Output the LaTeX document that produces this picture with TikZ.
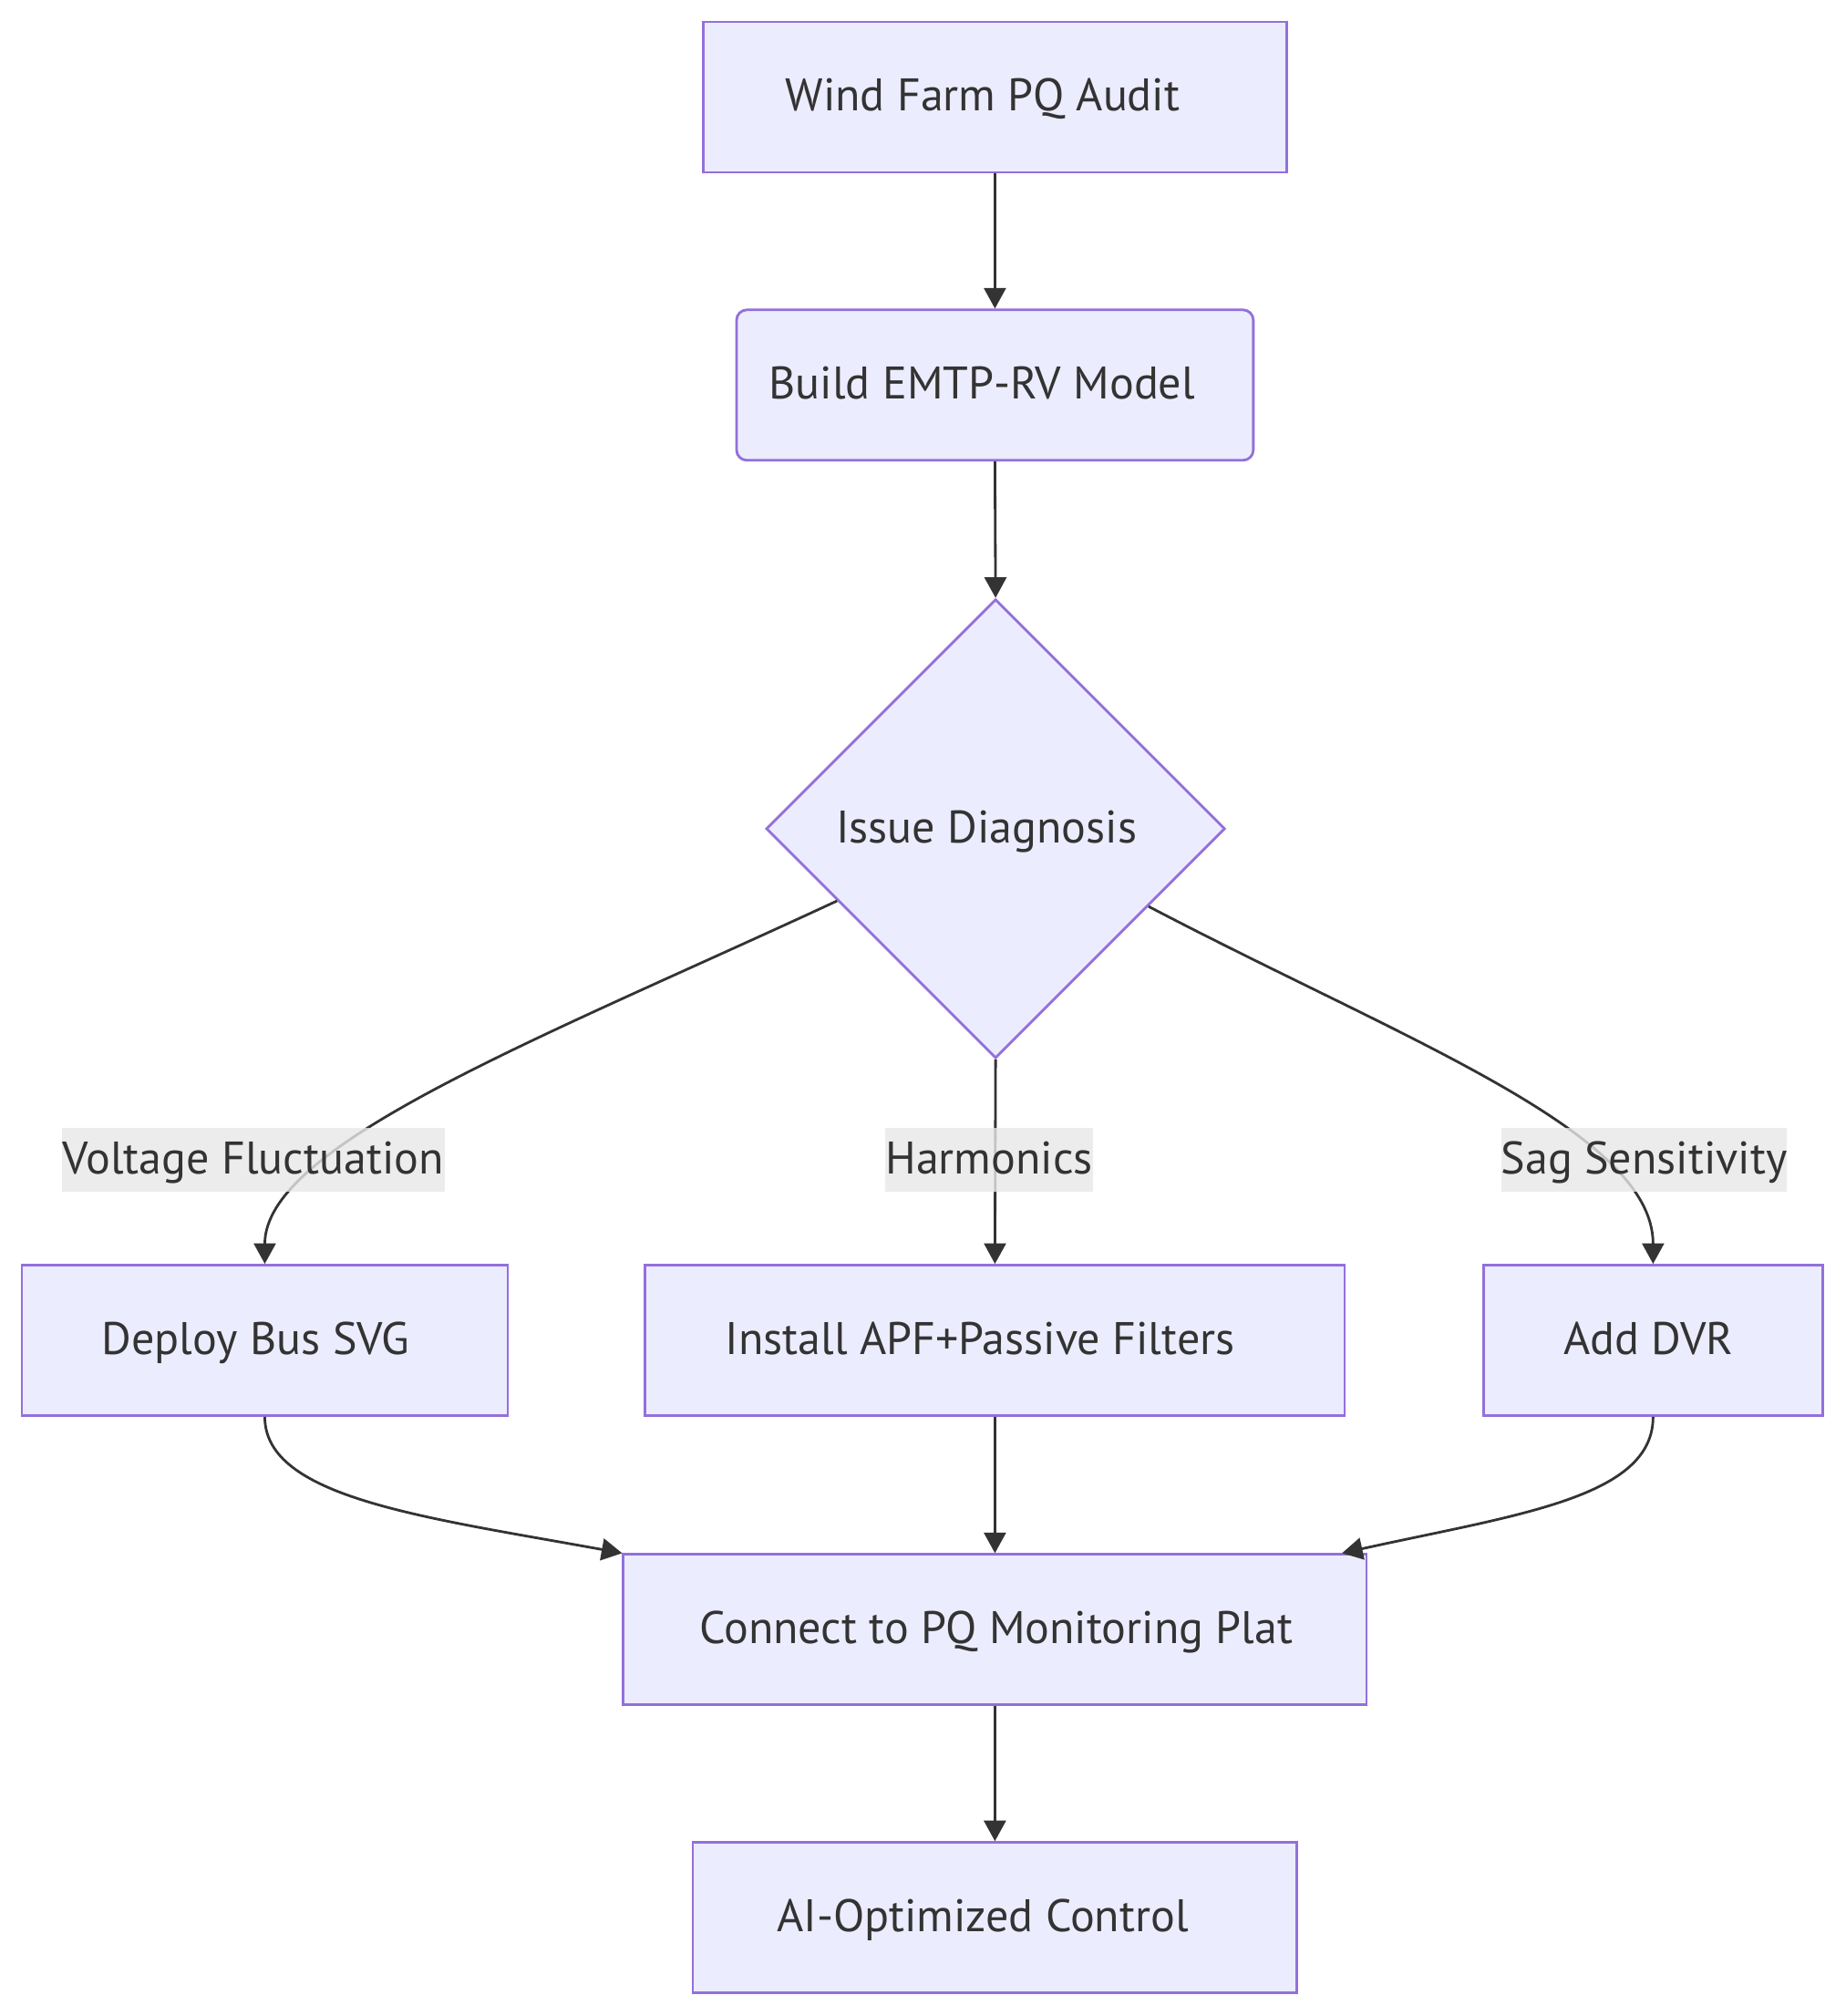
\documentclass[tikz,border=0pt]{standalone}
\usepackage{fontspec}
\setmainfont{PT Sans}
\usetikzlibrary{shapes.geometric,arrows.meta,calc}
\definecolor{nodefill}{HTML}{ECECFF}
\definecolor{nodeborder}{HTML}{9370DB}
\definecolor{edgecol}{HTML}{333333}
\definecolor{lblbg}{HTML}{E8E8E8}
\begin{document}
\begin{tikzpicture}[x=1pt,y=-1pt,
  txt/.style={text=edgecol, font=\fontsize{35.5}{40}\selectfont, inner sep=0pt, text height=28pt, text depth=6pt},
  box/.style={draw=nodeborder, fill=nodefill, line width=2pt, minimum height=117pt, inner sep=0pt},
  edge/.style={draw=edgecol, line width=2pt, -{Triangle[length=16pt,width=17pt]}},
  lbl/.style={fill=lblbg, fill opacity=0.8, text opacity=1, text=edgecol, inner sep=0pt, minimum height=50pt, font=\fontsize{35.5}{40}\selectfont, text height=28pt, text depth=6pt}]
\useasboundingbox (0,0) rectangle (1436,1568);
\fill[white] (0,0) rectangle (1436,1568);

% nodes
\node[box, minimum width=454pt, label={[txt,xshift=-9.5pt]center:Wind Farm PQ Audit}] (audit) at (774,75.5) {};
\node[box, rounded corners=8pt, minimum width=402pt, label={[txt,xshift=-10pt]center:Build EMTP-RV Model}] (build) at (774,299.5) {};
\node[diamond, draw=nodeborder, fill=nodefill, line width=2pt, aspect=1, inner sep=0pt, minimum width=357pt, minimum height=357pt, label={[txt,xshift=-7pt]center:Issue Diagnosis}] (diag) at (774.5,644.5) {};
\node[box, minimum width=378pt, label={[txt,xshift=-7pt]center:Deploy Bus SVG}] (deploy) at (206,1042.5) {};
\node[box, minimum width=544pt, label={[txt,xshift=-11.5pt]center:Install APF+Passive Filters}] (apf) at (774,1042.5) {};
\node[box, minimum width=264pt, label={[txt,xshift=-3.5pt]center:Add DVR}] (dvr) at (1286,1042.5) {};
\node[box, minimum width=578pt, label={[txt,xshift=1pt]center:Connect to PQ Monitoring Plat}] (connect) at (774,1267.5) {};
\node[box, minimum width=470pt, label={[txt,xshift=-9.5pt]center:AI-Optimized Control}] (ai) at (774,1491.5) {};

% edges
\draw[edge] (audit.south) -- (build.north);
\draw[edge] (build.south) -- (diag.north);
\draw[edge] ($(diag.west)!0.313!(diag.south)$) .. controls (420,808) and (206,890) .. (deploy.north);
\draw[edge] (diag.south) -- (apf.north);
\draw[edge] ($(diag.east)!0.337!(diag.south)$) .. controls (1090,808) and (1286,880) .. (dvr.north);
\draw[edge] (deploy.south) .. controls (206,1165) and (330,1180) .. (connect.north west);
\draw[edge] (apf.south) -- (connect.north);
\draw[edge] (dvr.south) .. controls (1286,1165) and (1180,1178) .. ($(connect.north east)+(-20,0)$);
\draw[edge] (connect.south) -- (ai.north);

% edge labels
\node[lbl, minimum width=298pt] (l1) at (197,902) {Voltage Fluctuation};
\node[lbl, minimum width=159pt] (l2) at (769.5,902) {Harmonics};
\node[lbl, minimum width=218pt] (l3) at (1279,902) {Sag Sensitivity};
\end{tikzpicture}
\end{document}
